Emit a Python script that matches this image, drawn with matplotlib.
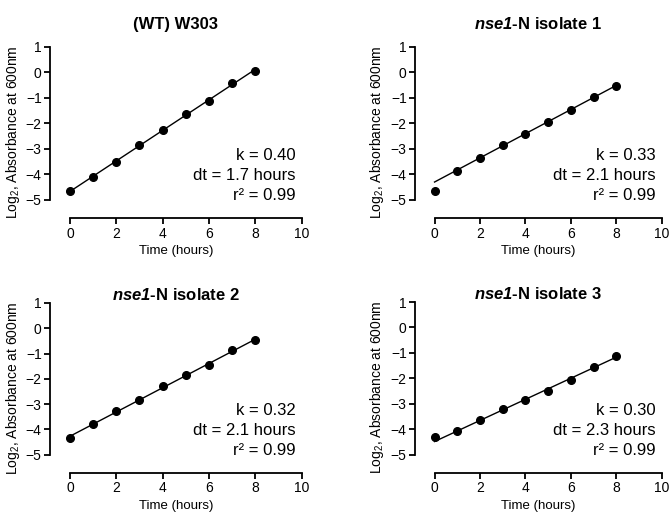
import numpy as np
import matplotlib
matplotlib.use("Agg")
import matplotlib.pyplot as plt

plt.rcParams['font.family'] = ['Liberation Sans', 'DejaVu Sans']
plt.rcParams['mathtext.fontset'] = 'custom'
plt.rcParams['mathtext.rm'] = 'Liberation Sans'
plt.rcParams['mathtext.it'] = 'Liberation Sans:italic'
plt.rcParams['mathtext.bf'] = 'Liberation Sans:bold'
plt.rcParams['mathtext.bfit'] = 'Liberation Sans:italic:bold'

# 数据
hours = [0, 1, 2, 3, 4, 5, 6, 7, 8]
wt_w303 = [-4.67, -4.09, -3.50, -2.85, -2.26, -1.65, -1.11, -0.43, 0.06]
isolate1 = [-4.67, -3.85, -3.34, -2.86, -2.40, -1.95, -1.48, -0.96, -0.53]
isolate2 = [-4.32, -3.80, -3.27, -2.82, -2.29, -1.86, -1.44, -0.87, -0.48]
isolate3 = [-4.32, -4.06, -3.65, -3.19, -2.84, -2.48, -2.05, -1.56, -1.12]

titles = ['(WT) W303', r'$\mathbfit{nse1}$-N isolate 1',
          r'$\mathbfit{nse1}$-N isolate 2', r'$\mathbfit{nse1}$-N isolate 3']
k_vals = ['0.40', '0.33', '0.32', '0.30']
dt_vals = ['1.7', '2.1', '2.1', '2.3']
r2_vals = ['0.99', '0.99', '0.99', '0.99']
fit_from = [0, 1, 0, 1]  # 拟合起点

series = [wt_w303, isolate1, isolate2, isolate3]

W, H = 671, 515
fig = plt.figure(figsize=(W / 100, H / 100), dpi=100)

# 每个子图的像素框: 左, 右, 上, 下
boxes = [(50, 301.7, 46.7, 218.3), (415, 661.7, 46.7, 218.3),
         (50, 301.7, 303, 473), (415, 661.7, 302, 473)]
title_pads = [13, 13, 2, 2]

for i in range(4):
    l, r, t, b = boxes[i]
    ax = fig.add_axes([l / W, 1 - b / H, (r - l) / W, (b - t) / H])
    x = np.array(hours)
    y = np.array(series[i])
    s = fit_from[i]
    p = np.polyfit(x[s:], y[s:], 1)
    xx = np.array([0, 8])
    ax.plot(xx, np.polyval(p, xx), color='black', lw=1)
    ax.plot(x, y, 'o', color='black', ms=5.5)

    ax.set_xlim(-0.86, 10)
    ax.set_ylim(-5.72, 1)
    ax.spines['top'].set_visible(False)
    ax.spines['right'].set_visible(False)
    ax.spines['left'].set_bounds(-5, 1)
    ax.spines['bottom'].set_bounds(0, 10)
    for sp in ['left', 'bottom']:
        ax.spines[sp].set_linewidth(1.3)
    ax.set_xticks([0, 2, 4, 6, 8, 10])
    ax.set_yticks([1, 0, -1, -2, -3, -4, -5])
    ax.tick_params(direction='out', length=4, width=1.3, labelsize=10, pad=2)
    ax.set_xlabel('Time (hours)', fontsize=9.5, labelpad=3)
    ax.set_ylabel('Log$_2$, Absorbance at 600nm', fontsize=10, labelpad=3)
    ax.set_title(titles[i], fontsize=12, fontweight='bold', pad=title_pads[i])
    txt = 'k = ' + k_vals[i] + '\ndt = ' + dt_vals[i] + ' hours\nr² = ' + r2_vals[i]
    ax.text(9.75, -2.95, txt, ha='right', va='top', fontsize=12, linespacing=1.42)

fig.savefig('out.png', dpi=100)
